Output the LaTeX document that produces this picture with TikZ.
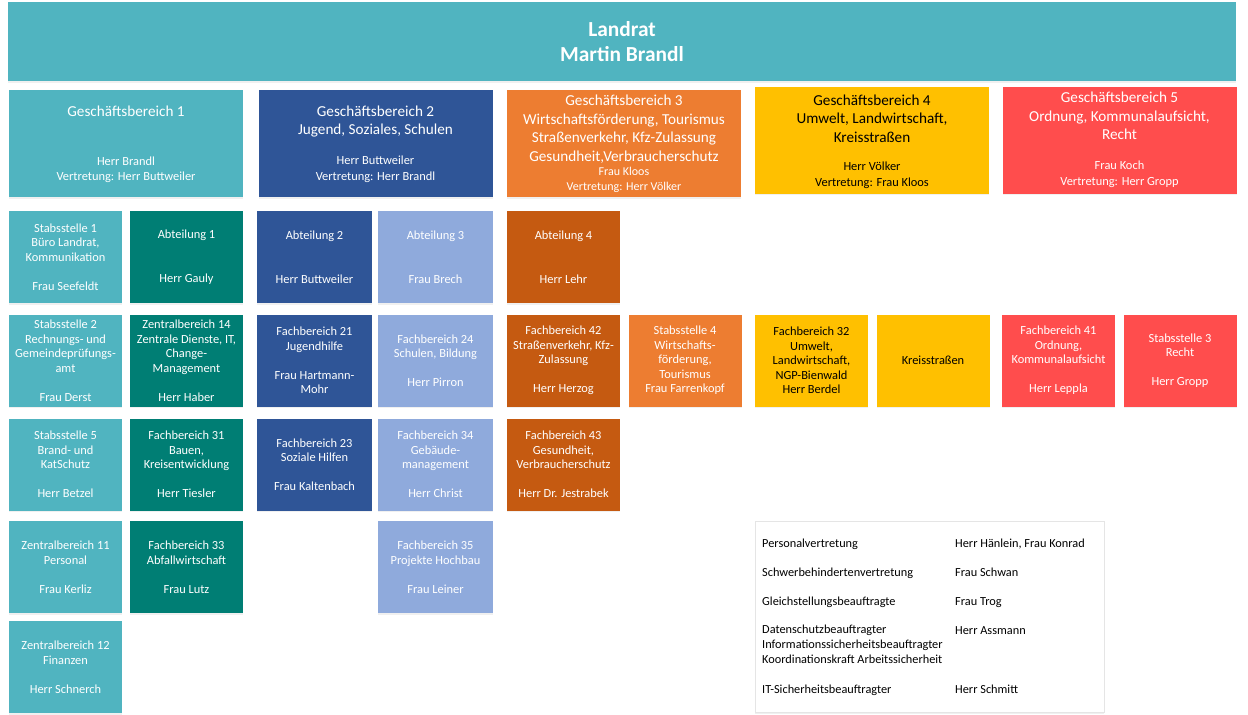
\documentclass[tikz,border=0pt]{standalone}
\usepackage{fontspec}
\setmainfont{Carlito}
\usetikzlibrary{shadows}

\definecolor{tealA}{RGB}{80,180,192}
\definecolor{tealB}{RGB}{0,126,116}
\definecolor{blueA}{RGB}{47,85,151}
\definecolor{blueB}{RGB}{143,170,220}
\definecolor{orangeA}{RGB}{237,125,49}
\definecolor{orangeB}{RGB}{197,90,17}
\definecolor{yellowA}{RGB}{255,192,0}
\definecolor{redA}{RGB}{255,77,77}

\begin{document}
\begin{tikzpicture}[x=1pt,y=-1pt,
    shade/.style={drop shadow={shadow xshift=0pt, shadow yshift=-1.5pt, opacity=0.12}},
    box/.style={shade, minimum width=113pt, minimum height=92pt, inner sep=0pt,
      align=center, text=white, font=\fontsize{12.4}{14.5}\selectfont},
    gbbox/.style={shade, minimum width=234pt, minimum height=107pt, inner sep=0pt},
    gbtitle/.style={align=center, inner sep=0pt, text=white, font=\fontsize{15.2}{18.5}\selectfont},
    gbname/.style={align=center, inner sep=0pt, text=white, font=\fontsize{12.4}{15.5}\selectfont},
    legtext/.style={inner sep=0pt, anchor=base west, font=\fontsize{12.3}{15}\selectfont}]

  \useasboundingbox (0,0) rectangle (1248,715);

  % Landrat
  \node[shade, fill=tealA, minimum width=1228pt, minimum height=79pt, align=center,
    text=white, font=\fontsize{21.4}{25}\selectfont\bfseries] (landrat) at (622,41.5)
    {Landrat\\Martin Brandl};

  % Geschaeftsbereiche
  \node[gbbox, fill=tealA] (gb1) at (126,143.5) {};
  \node[gbtitle] (gb1t) at (126,111) {Geschäftsbereich 1};
  \node[gbname] (gb1n) at (126,170) {Herr Brandl\\Vertretung: Herr Buttweiler};

  \node[gbbox, fill=blueA] (gb2) at (375.5,143.5) {};
  \node[gbtitle] (gb2t) at (375.5,121.5) {Geschäftsbereich 2\\Jugend, Soziales, Schulen};
  \node[gbname] (gb2n) at (375.5,169.5) {Herr Buttweiler\\Vertretung: Herr Brandl};

  \node[gbbox, fill=orangeA] (gb3) at (624,143.5) {};
  \node[gbtitle] (gb3t) at (624,129) {Geschäftsbereich 3\\Wirtschaftsförderung, Tourismus\\Straßenverkehr, Kfz-Zulassung\\Gesundheit,Verbraucherschutz};
  \node[gbname, font=\fontsize{12}{15}\selectfont] (gb3n) at (624,179.5) {Frau Kloos\\Vertretung: Herr Völker};

  \node[gbbox, fill=yellowA] (gb4) at (872,140) {};
  \node[gbtitle, text=black] (gb4t) at (872,118.5) {Geschäftsbereich 4\\Umwelt, Landwirtschaft,\\Kreisstraßen};
  \node[gbname, text=black] (gb4n) at (872,175.5) {Herr Völker\\Vertretung: Frau Kloos};

  \node[gbbox, fill=redA] (gb5) at (1119.5,140) {};
  \node[gbtitle] (gb5t) at (1119.5,116) {Geschäftsbereich 5\\Ordnung, Kommunalaufsicht,\\Recht};
  \node[gbname] (gb5n) at (1119.5,174.5) {Frau Koch\\Vertretung: Herr Gropp};

  % Row 1
  \node[box, fill=tealA] (st1) at (65.5,257) {Stabsstelle 1\\Büro Landrat,\\Kommunikation\\[14.5pt]Frau Seefeldt};
  \node[box, fill=tealB] (abt1) at (186.5,257) {Abteilung 1\\[29pt]Herr Gauly};
  \node[box, fill=blueA, minimum width=115pt] (abt2) at (314.5,257) {Abteilung 2\\[29pt]Herr Buttweiler};
  \node[box, fill=blueB, minimum width=115pt] (abt3) at (435.5,257) {Abteilung 3\\[29pt]Frau Brech};
  \node[box, fill=orangeB] (abt4) at (563.5,257) {Abteilung 4\\[29pt]Herr Lehr};

  % Row 2
  \node[box, fill=tealA] (st2) at (65.5,360.5) {Stabsstelle 2\\Rechnungs- und\\Gemeindeprüfungs-\\amt\\[14.5pt]Frau Derst};
  \node[box, fill=tealB] (zb14) at (186.5,360.5) {Zentralbereich 14\\Zentrale Dienste, IT,\\Change-\\Management\\[14.5pt]Herr Haber};
  \node[box, fill=blueA, minimum width=115pt] (fb21) at (314.5,360.5) {Fachbereich 21\\Jugendhilfe\\[14.5pt]Frau Hartmann-\\Mohr};
  \node[box, fill=blueB, minimum width=115pt] (fb24) at (435.5,360.5) {Fachbereich 24\\Schulen, Bildung\\[14.5pt]Herr Pirron};
  \node[box, fill=orangeB] (fb42) at (563.5,360.5) {Fachbereich 42\\Straßenverkehr, Kfz-\\Zulassung\\[14.5pt]Herr Herzog};
  \node[box, fill=orangeA] (st4) at (685,360.5) {Stabsstelle 4\\Wirtschafts-\\förderung,\\Tourismus\\Frau Farrenkopf};
  \node[box, fill=yellowA, text=black] (fb32) at (811.5,360.5) {Fachbereich 32\\Umwelt,\\Landwirtschaft,\\NGP-Bienwald\\Herr Berdel};
  \node[box, fill=yellowA, text=black] (kreis) at (933,360.5) {Kreisstraßen};
  \node[box, fill=redA] (fb41) at (1058.5,360.5) {Fachbereich 41\\Ordnung,\\Kommunalaufsicht\\[14.5pt]Herr Leppla};
  \node[box, fill=redA] (st3) at (1180,360.5) {Stabsstelle 3\\Recht\\[14.5pt]Herr Gropp};

  % Row 3
  \node[box, fill=tealA] (st5) at (65.5,464.5) {Stabsstelle 5\\Brand- und\\KatSchutz\\[14.5pt]Herr Betzel};
  \node[box, fill=tealB] (fb31) at (186.5,464.5) {Fachbereich 31\\Bauen,\\Kreisentwicklung\\[14.5pt]Herr Tiesler};
  \node[box, fill=blueA, minimum width=115pt] (fb23) at (314.5,464.5) {Fachbereich 23\\Soziale Hilfen\\[14.5pt]Frau Kaltenbach};
  \node[box, fill=blueB, minimum width=115pt] (fb34) at (435.5,464.5) {Fachbereich 34\\Gebäude-\\management\\[14.5pt]Herr Christ};
  \node[box, fill=orangeB] (fb43) at (563.5,464.5) {Fachbereich 43\\Gesundheit,\\Verbraucherschutz\\[14.5pt]Herr Dr. Jestrabek};

  % Row 4 and 5
  \node[box, fill=tealA] (zb11) at (65.5,567) {Zentralbereich 11\\Personal\\[14.5pt]Frau Kerliz};
  \node[box, fill=tealB] (fb33) at (186.5,567) {Fachbereich 33\\Abfallwirtschaft\\[14.5pt]Frau Lutz};
  \node[box, fill=blueB, minimum width=115pt] (fb35) at (435.5,567) {Fachbereich 35\\Projekte Hochbau\\[14.5pt]Frau Leiner};
  \node[box, fill=tealA] (zb12) at (65.5,667) {Zentralbereich 12\\Finanzen\\[14.5pt]Herr Schnerch};

  % Beauftragte
  \node[shade, draw=gray!20, fill=white, minimum width=349pt, minimum height=191pt] (beauf) at (929.5,616.5) {};
  \node[legtext] (pv) at (762,547) {Personalvertretung};
  \node[legtext] (pvn) at (955,547) {Herr Hänlein, Frau Konrad};
  \node[legtext] (sbv) at (762,576) {Schwerbehindertenvertretung};
  \node[legtext] (sbvn) at (955,576) {Frau Schwan};
  \node[legtext] (gb) at (762,605) {Gleichstellungsbeauftragte};
  \node[legtext] (gbn) at (955,605) {Frau Trog};
  \node[legtext, anchor=north west, align=left] (ds) at (762,625) {Datenschutzbeauftragter\\Informationssicherheitsbeauftragter\\Koordinationskraft Arbeitssicherheit};
  \node[legtext] (dsn) at (955,634) {Herr Assmann};
  \node[legtext] (it) at (762,693) {IT-Sicherheitsbeauftragter};
  \node[legtext] (itn) at (955,693) {Herr Schmitt};
\end{tikzpicture}
\end{document}
